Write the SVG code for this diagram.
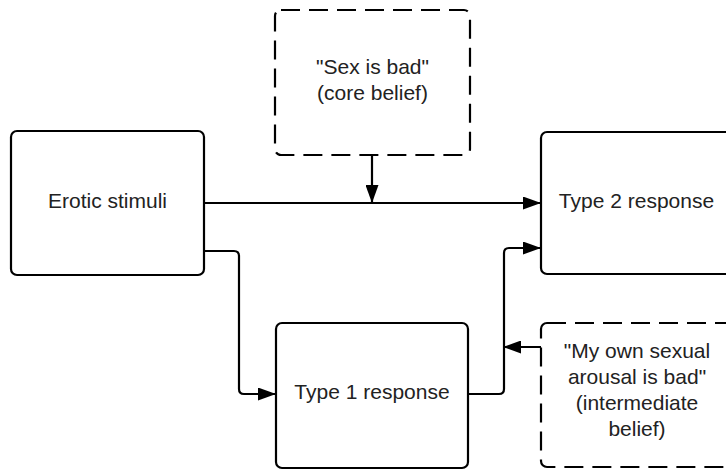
<svg xmlns="http://www.w3.org/2000/svg" width="726" height="471" viewBox="0 0 726 471">
  <style>
    .box { fill: #ffffff; stroke: #000000; stroke-width: 2.2; }
    .dashed { stroke-dasharray: 19 9; }
    .label { font-family: "Liberation Sans", Arial, sans-serif; font-size: 21px; fill: #222222; text-anchor: middle; }
    .wire { fill: none; stroke: #000000; stroke-width: 2.2; stroke-linejoin: round; }
  </style>
  <defs>
    <marker id="arrow" viewBox="0 0 18 13" refX="18" refY="6.5" markerWidth="18" markerHeight="13" markerUnits="userSpaceOnUse" orient="auto">
      <path d="M0,0 L18,6.5 L0,13 Z" fill="#000000"/>
    </marker>
  </defs>
  <rect width="726" height="471" fill="#ffffff"/>

  <g id="connectors">
    <!-- stimuli straight to type 2 -->
    <path class="wire" d="M204,203 L541,203" marker-end="url(#arrow)"/>
    <!-- core belief acting on that path -->
    <path class="wire" d="M372,155 L372,203" marker-end="url(#arrow)"/>
    <!-- stimuli to type 1 -->
    <path class="wire" d="M204,251 L234,251 Q239,251 239,256 L239,389 Q239,394 244,394 L276,394" marker-end="url(#arrow)"/>
    <!-- type 1 to type 2 -->
    <path class="wire" d="M468,394 L499,394 Q504,394 504,389 L504,253 Q504,248 509,248 L541,248" marker-end="url(#arrow)"/>
    <!-- intermediate belief acting on that path -->
    <path class="wire" d="M541,347 L503,347" marker-end="url(#arrow)"/>
  </g>

  <g id="core-belief">
    <rect class="box dashed" x="275" y="10" width="195" height="145" rx="6"/>
    <text class="label" x="372.5" y="74">"Sex is bad"</text>
    <text class="label" x="372.5" y="100">(core belief)</text>
  </g>

  <g id="erotic-stimuli">
    <rect class="box" x="11" y="131" width="193" height="144" rx="6"/>
    <text class="label" x="107.5" y="207.5">Erotic stimuli</text>
  </g>

  <g id="type2-response">
    <rect class="box" x="541" y="132" width="193" height="142" rx="6"/>
    <text class="label" x="636.5" y="207.5">Type 2 response</text>
  </g>

  <g id="type1-response">
    <rect class="box" x="276" y="323" width="192" height="145" rx="6"/>
    <text class="label" x="372" y="399">Type 1 response</text>
  </g>

  <g id="intermediate-belief">
    <rect class="box dashed" x="541" y="323" width="193" height="144" rx="6"/>
    <text class="label" x="637" y="358">"My own sexual</text>
    <text class="label" x="637" y="384">arousal is bad"</text>
    <text class="label" x="637" y="410">(intermediate</text>
    <text class="label" x="637" y="436">belief)</text>
  </g>
</svg>
